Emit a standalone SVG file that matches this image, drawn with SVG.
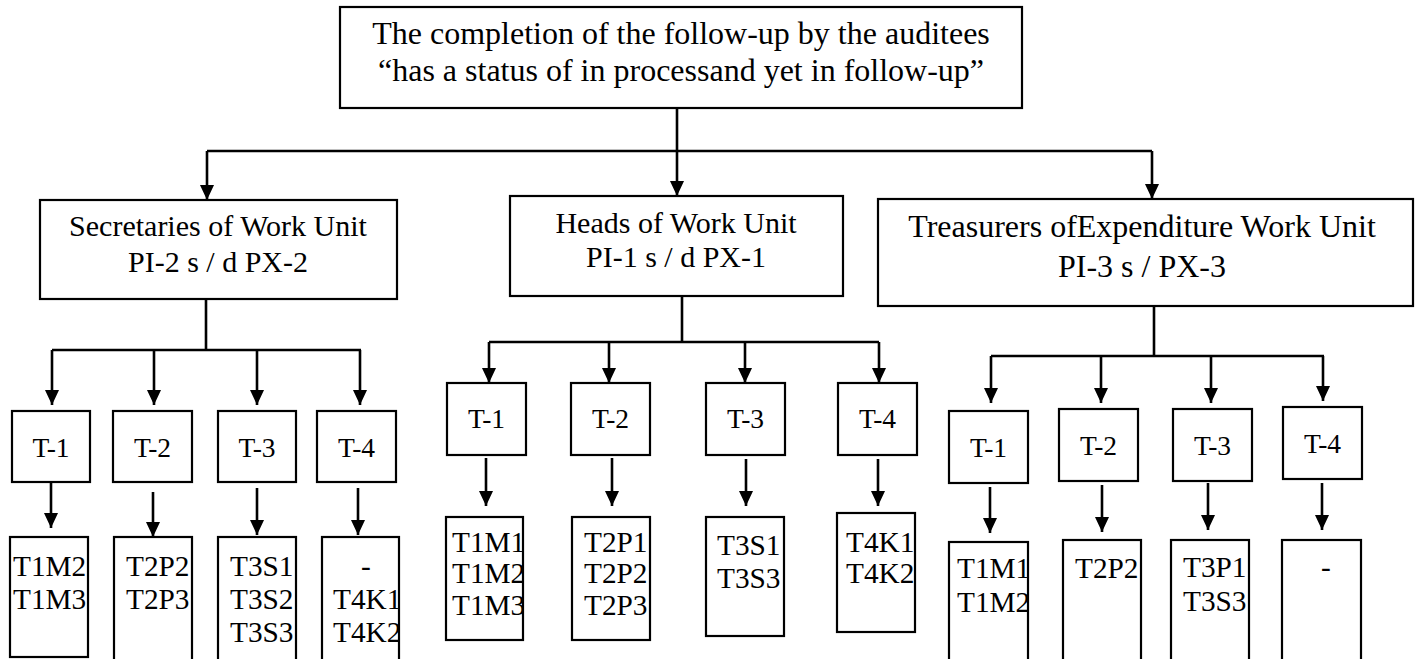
<svg xmlns="http://www.w3.org/2000/svg" width="1416" height="659" viewBox="0 0 1416 659">
<style>
rect{fill:none;stroke:#000;stroke-width:2.2}
text{font-family:"Liberation Serif","Times New Roman",serif;fill:#000}
.h{font-size:32px;text-anchor:middle}
.m{font-size:30px;text-anchor:middle}
.t{font-size:27.5px;text-anchor:middle}
.b{font-size:29.3px}
.c line,.c path{stroke:#000;stroke-width:2.6;fill:none}
</style>
<defs>
<marker id="ah" markerUnits="userSpaceOnUse" markerWidth="16" markerHeight="16" refX="15" refY="7" orient="auto" viewBox="0 0 16 16">
<path d="M0,0 L15,7 L0,14 z" fill="#000"/>
</marker>
<clipPath id="c-s1"><path d="M10,537H88V659H10z"/></clipPath>
<clipPath id="c-s4"><path d="M322,537H399V659H322z"/></clipPath>
<clipPath id="c-h1"><path d="M446,517H523V640H446z"/></clipPath>
<clipPath id="c-h2"><path d="M572,517H650V640H572z"/></clipPath>
<clipPath id="c-h4"><path d="M837,513H915V632H837z"/></clipPath>
<clipPath id="c-r1"><path d="M949,542H1028V659H949z"/></clipPath>
</defs>
<rect x="0" y="0" width="1416" height="659" style="fill:#fff;stroke:none"/>

<g id="title">
<rect x="340" y="7" width="682" height="101"/>
<text class="h" x="681" y="44">The completion of the follow-up by the auditees</text>
<text class="h" x="681" y="81">“has a status of in processand yet in follow-up”</text>
</g>

<g id="secretaries">
<rect x="40" y="200" width="357" height="99"/>
<text class="m" x="218" y="236">Secretaries of Work Unit</text>
<text class="m" x="218" y="272">PI-2 s / d PX-2</text>
</g>
<g id="heads">
<rect x="510" y="196" width="333" height="100"/>
<text class="m" x="676" y="233">Heads of Work Unit</text>
<text class="m" x="676" y="267">PI-1 s / d PX-1</text>
</g>
<g id="treasurers">
<rect x="878" y="199" width="535" height="107"/>
<text class="h" x="1142" y="237">Treasurers ofExpenditure Work Unit</text>
<text class="h" x="1142" y="277">PI-3 s / PX-3</text>
</g>

<!-- Secretaries T boxes -->
<g id="s-t1"><rect x="12" y="411" width="78" height="71"/><text class="t" x="51" y="457">T-1</text></g>
<g id="s-t2"><rect x="113" y="411" width="79" height="71"/><text class="t" x="152.5" y="457">T-2</text></g>
<g id="s-t3"><rect x="218" y="411" width="78" height="71"/><text class="t" x="257" y="457">T-3</text></g>
<g id="s-t4"><rect x="317" y="411" width="79" height="71"/><text class="t" x="356.5" y="457">T-4</text></g>
<g id="s-r1"><g clip-path="url(#c-s1)"><text class="b" x="13" y="576">T1M2</text><text class="b" x="13" y="609">T1M3</text></g><rect x="10" y="537" width="78" height="120"/></g>
<g id="s-r2"><text class="b" x="126" y="576">T2P2</text><text class="b" x="126" y="609">T2P3</text><rect x="114" y="537" width="78" height="130"/></g>
<g id="s-r3"><text class="b" x="230" y="576">T3S1</text><text class="b" x="230" y="609">T3S2</text><text class="b" x="230" y="642">T3S3</text><rect x="218" y="537" width="78" height="130"/></g>
<g id="s-r4"><g clip-path="url(#c-s4)"><text class="b" x="361" y="576">-</text><text class="b" x="333" y="609">T4K1</text><text class="b" x="333" y="642">T4K2</text></g><rect x="322" y="537" width="77" height="130"/></g>

<!-- Heads T boxes -->
<g id="h-t1"><rect x="447" y="383" width="79" height="72"/><text class="t" x="486.5" y="428">T-1</text></g>
<g id="h-t2"><rect x="571" y="383" width="79" height="72"/><text class="t" x="610.5" y="428">T-2</text></g>
<g id="h-t3"><rect x="706" y="383" width="79" height="72"/><text class="t" x="745.5" y="428">T-3</text></g>
<g id="h-t4"><rect x="838" y="383" width="79" height="72"/><text class="t" x="877.5" y="428">T-4</text></g>
<g id="h-r1"><g clip-path="url(#c-h1)"><text class="b" x="452" y="552">T1M1</text><text class="b" x="452" y="583">T1M2</text><text class="b" x="452" y="615">T1M3</text></g><rect x="446" y="517" width="77" height="123"/></g>
<g id="h-r2"><g clip-path="url(#c-h2)"><text class="b" x="584" y="552">T2P1</text><text class="b" x="584" y="583">T2P2</text><text class="b" x="584" y="615">T2P3</text></g><rect x="572" y="517" width="78" height="123"/></g>
<g id="h-r3"><text class="b" x="717" y="555">T3S1</text><text class="b" x="717" y="588">T3S3</text><rect x="706" y="517" width="78" height="119"/></g>
<g id="h-r4"><g clip-path="url(#c-h4)"><text class="b" x="846" y="552">T4K1</text><text class="b" x="846" y="583">T4K2</text></g><rect x="837" y="513" width="78" height="119"/></g>

<!-- Treasurers T boxes -->
<g id="r-t1"><rect x="949" y="411" width="79" height="72"/><text class="t" x="988.5" y="457">T-1</text></g>
<g id="r-t2"><rect x="1059" y="409" width="79" height="72"/><text class="t" x="1098.5" y="455">T-2</text></g>
<g id="r-t3"><rect x="1173" y="409" width="79" height="72"/><text class="t" x="1212.5" y="455">T-3</text></g>
<g id="r-t4"><rect x="1283" y="407" width="79" height="72"/><text class="t" x="1322.5" y="453">T-4</text></g>
<g id="r-r1"><g clip-path="url(#c-r1)"><text class="b" x="957" y="578">T1M1</text><text class="b" x="957" y="612">T1M2</text></g><rect x="949" y="542" width="79" height="130"/></g>
<g id="r-r2"><text class="b" x="1075" y="578">T2P2</text><rect x="1063" y="540" width="78" height="130"/></g>
<g id="r-r3"><text class="b" x="1183" y="577">T3P1</text><text class="b" x="1183" y="611">T3S3</text><rect x="1171" y="540" width="78" height="130"/></g>
<g id="r-r4"><text class="b" x="1321" y="577">-</text><rect x="1282" y="540" width="79" height="130"/></g>

<g id="connectors" class="c">
<!-- top -->
<line x1="677" y1="108" x2="677" y2="151"/>
<line x1="207" y1="151" x2="1152" y2="151"/>
<line x1="207" y1="151" x2="207" y2="200" marker-end="url(#ah)"/>
<line x1="677" y1="151" x2="677" y2="196" marker-end="url(#ah)"/>
<line x1="1152" y1="151" x2="1152" y2="199" marker-end="url(#ah)"/>
<!-- secretaries -->
<line x1="206" y1="299" x2="206" y2="350"/>
<line x1="52" y1="350" x2="361" y2="350"/>
<line x1="52" y1="350" x2="52" y2="405" marker-end="url(#ah)"/>
<line x1="154" y1="350" x2="154" y2="405" marker-end="url(#ah)"/>
<line x1="257" y1="350" x2="257" y2="405" marker-end="url(#ah)"/>
<line x1="360" y1="350" x2="360" y2="405" marker-end="url(#ah)"/>
<line x1="51" y1="483" x2="51" y2="528" marker-end="url(#ah)"/>
<line x1="153" y1="492" x2="153" y2="537" marker-end="url(#ah)"/>
<line x1="257" y1="488" x2="257" y2="535" marker-end="url(#ah)"/>
<line x1="358" y1="488" x2="358" y2="535" marker-end="url(#ah)"/>
<!-- heads -->
<line x1="682" y1="296" x2="682" y2="342"/>
<line x1="489" y1="342" x2="879" y2="342"/>
<line x1="489" y1="342" x2="489" y2="383" marker-end="url(#ah)"/>
<line x1="609" y1="342" x2="609" y2="383" marker-end="url(#ah)"/>
<line x1="745" y1="342" x2="745" y2="383" marker-end="url(#ah)"/>
<line x1="879" y1="342" x2="879" y2="383" marker-end="url(#ah)"/>
<line x1="486" y1="458" x2="486" y2="506" marker-end="url(#ah)"/>
<line x1="612" y1="458" x2="612" y2="506" marker-end="url(#ah)"/>
<line x1="746" y1="459" x2="746" y2="506" marker-end="url(#ah)"/>
<line x1="878" y1="459" x2="878" y2="506" marker-end="url(#ah)"/>
<!-- treasurers -->
<line x1="1154" y1="306" x2="1154" y2="356"/>
<line x1="991" y1="356" x2="1324" y2="356"/>
<line x1="991" y1="356" x2="991" y2="403" marker-end="url(#ah)"/>
<line x1="1101" y1="356" x2="1101" y2="403" marker-end="url(#ah)"/>
<line x1="1211" y1="356" x2="1211" y2="403" marker-end="url(#ah)"/>
<line x1="1323" y1="356" x2="1323" y2="401" marker-end="url(#ah)"/>
<line x1="990" y1="487" x2="990" y2="533" marker-end="url(#ah)"/>
<line x1="1102" y1="485" x2="1102" y2="532" marker-end="url(#ah)"/>
<line x1="1208" y1="483" x2="1208" y2="530" marker-end="url(#ah)"/>
<line x1="1322" y1="483" x2="1322" y2="530" marker-end="url(#ah)"/>
</g>
</svg>
